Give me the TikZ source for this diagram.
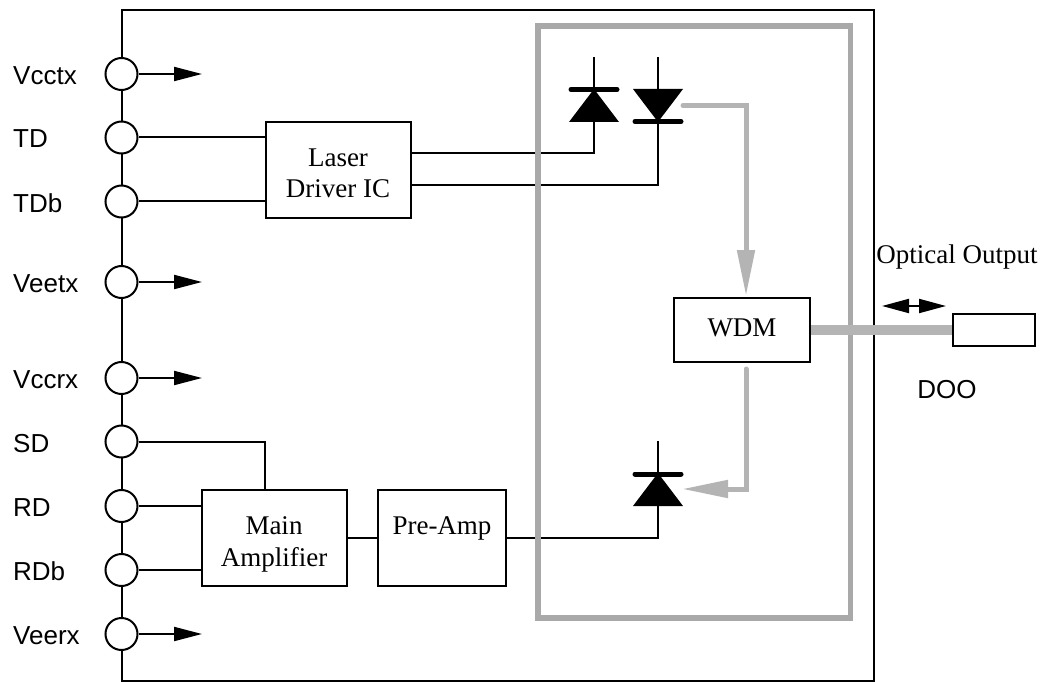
\documentclass[tikz,border=0pt]{standalone}
\usepackage{fontspec}
\setmainfont{Liberation Serif}
\setsansfont{Liberation Sans}
\usetikzlibrary{arrows.meta}

\tikzset{
  blockbox/.style={draw, line width=2pt, fill=white, align=center, inner sep=0pt,
    text depth=8pt, font=\fontsize{27}{32}\selectfont},
  pincircle/.style={draw, circle, line width=2pt, fill=white, minimum size=32pt, inner sep=0pt},
  pinlabel/.style={anchor=base west, inner sep=0pt, font=\sffamily\fontsize{26}{30}\selectfont},
  wire/.style={line width=2pt},
  pinarrow/.style={wire, -{Triangle[length=28pt, width=14pt]}},
  grayarrow/.style={line width=5pt, color=lightpath, line cap=round,
    -{Triangle[length=46pt, width=17pt]}},
  diodebar/.style={line width=5pt, line cap=round},
}
\definecolor{lightpath}{HTML}{B4B4B4}
\definecolor{framegray}{HTML}{A9A9A9}

\begin{document}
\begin{tikzpicture}[x=1pt, y=-1pt]
        \useasboundingbox (0, 0) rectangle (1045, 682);
        % module outline
        \draw[line width=2pt] (121.5, 10) rectangle (874, 681);
        % pins on the left edge
        \foreach \pname/\py in {Vcctx/74, TD/137.5, TDb/201.5, Veetx/282, Vccrx/378,
          SD/441.5, RD/506, RDb/570, Veerx/634} {
          \node[pincircle] (pin\pname) at (121.5, \py) {};
          \node[pinlabel] (lab\pname) at (13, \py + 10.5) {\pname};
          \coordinate (tip\pname) at (202, \py);
        }
        \foreach \pname in {Vcctx, Veetx, Vccrx, Veerx}
          \draw[pinarrow] (pin\pname) -- (tip\pname);
        % blocks
        \node[blockbox, text height=64pt, minimum width=145pt, minimum height=96pt] (ldriver)
          at (338, 170) {Laser\\Driver IC};
        \node[blockbox, text height=64pt, minimum width=145pt, minimum height=96pt] (mainamp)
          at (274, 538) {Main\\Amplifier};
        \node[blockbox, text height=0pt, minimum width=128pt, minimum height=96pt] (preamp)
          at (442, 538) {Pre-Amp};
        \node[blockbox, text height=21pt, minimum width=136pt, minimum height=64pt] (wdm)
          at (742, 330) {WDM};
        \node[draw, line width=2pt, fill=white, minimum width=82pt, minimum height=32pt,
          inner sep=0pt] (fiberend) at (994, 330) {};
        % laser diodes and photodiode
        \coordinate (diodeA) at (594, 122);
        \coordinate (diodeB) at (658, 89);
        \coordinate (diodeC) at (658, 506);
        \draw[wire] (ldriver.east |- 0, 153) -- (594, 153) -- (594, 57);
        \draw[wire] (ldriver.east |- 0, 185) -- (658, 185) -- (658, 57);
        \draw[wire] (preamp.east) -| (658, 441);
        \fill (diodeA) ++(-25, 0) -- ++(50, 0) -- ++(-25, -33) -- cycle;
        \fill (diodeB) ++(-25, 0) -- ++(50, 0) -- ++(-25, 33) -- cycle;
        \fill (diodeC) ++(-25, 0) -- ++(50, 0) -- ++(-25, -33) -- cycle;
        \draw[diodebar] (571, 89.5) -- (617, 89.5);
        \draw[diodebar] (635, 121.5) -- (681, 121.5);
        \draw[diodebar] (635, 474) -- (681, 474);
        % electrical connections
        \draw[wire] (pinTD) -- (pinTD -| ldriver.west);
        \draw[wire] (pinTDb) -- (pinTDb -| ldriver.west);
        \draw[wire] (pinSD) -| (265, 490);
        \draw[wire] (pinRD) -- (pinRD -| mainamp.west);
        \draw[wire] (pinRDb) -- (pinRDb -| mainamp.west);
        \draw[wire] (mainamp) -- (preamp);
        % package frame and optical paths
        \draw[line width=5.5pt, color=framegray] (538, 26) rectangle (850.5, 618);
        \draw[grayarrow] (683, 105.5) -| (746, 296);
        \draw[grayarrow] (746, 369) |- (682, 489);
        \draw[line width=10pt, color=lightpath] (wdm.east) -- (fiberend.west);
        \draw[wire, {Triangle[length=27pt, width=14pt]}-{Triangle[length=27pt, width=14pt]}]
          (882, 306) -- (946, 306);
        % labels outside the module
        \node[anchor=base, inner sep=0pt, font=\fontsize{27}{32}\selectfont] (optlabel)
          at (957, 263) {Optical Output};
        \node[anchor=base, inner sep=0pt, font=\sffamily\fontsize{26}{30}\selectfont] (doolabel)
          at (947, 398) {DOO};
      \end{tikzpicture}
\end{document}
